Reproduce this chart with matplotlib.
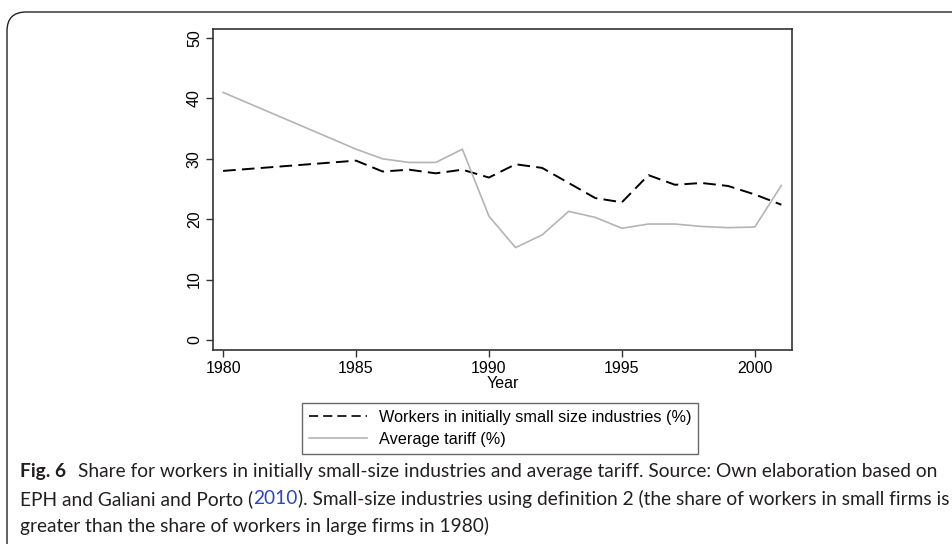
import matplotlib.pyplot as plt
from matplotlib.lines import Line2D
from matplotlib.patches import FancyBboxPatch

years = [1980, 1985, 1986, 1987, 1988, 1989, 1990, 1991, 1992, 1993, 1994, 1995,
         1996, 1997, 1998, 1999, 2000, 2001]
workers_small = [28.0, 29.7, 27.9, 28.2, 27.6, 28.2, 26.9, 29.1, 28.5, 26.0, 23.5, 22.8,
                 27.3, 25.7, 26.0, 25.5, 24.1, 22.4]
avg_tariff = [41.0, 31.6, 30.0, 29.4, 29.4, 31.6, 20.5, 15.3, 17.4, 21.3, 20.3, 18.5,
              19.2, 19.2, 18.8, 18.6, 18.7, 25.6]
x_ticks = [1980, 1985, 1990, 1995, 2000]
y_ticks = [0, 10, 20, 30, 40, 50]
labels = ['Workers in initially small size industries (%)', 'Average tariff (%)']

W, H = 953, 544
fig = plt.figure(figsize=(W / 100, H / 100), dpi=100)

# rounded frame around the figure (runs off the right and bottom edges)
frame = FancyBboxPatch((7 / W, -0.2), 1.2, 1 - 12 / H + 0.2,
                       boxstyle="round,pad=0,rounding_size=0.02",
                       transform=fig.transFigure, fill=False,
                       edgecolor='#222222', linewidth=1.0, mutation_aspect=W / H)
fig.patches.append(frame)

ax = fig.add_axes([213 / W, 1 - 350 / H, (792 - 213) / W, (350 - 29) / H])
ax.plot(years, workers_small, color='black', linestyle=(0, (6.5, 3.2)), linewidth=1.4)
ax.plot(years, avg_tariff, color='#b4b4b4', linewidth=1.2)

ax.set_xlim(1979.62, 2001.4)
ax.set_ylim(-1.66, 51.5)
ax.set_xticks(x_ticks)
ax.set_yticks(y_ticks)
tick_font = {'family': 'Liberation Sans', 'size': 11.5}
ax.set_xticklabels([str(t) for t in x_ticks], fontdict=tick_font)
ax.set_yticklabels([str(t) for t in y_ticks], fontdict=tick_font, rotation=90, va='center')
ax.tick_params(direction='out', length=5, width=1, color='#333333', pad=3)
ax.set_xlabel('Year', fontdict=tick_font, labelpad=0)
for s in ax.spines.values():
    s.set_color('#333333')
    s.set_linewidth(1.2)

# legend handles with a finer dash, like the source key
handles = [Line2D([], [], color='black', linestyle=(0, (5.5, 3.0)), linewidth=1.2),
           Line2D([], [], color='#b4b4b4', linewidth=1.2)]
leg = fig.legend(handles, labels, loc='upper left', bbox_to_anchor=(302 / W, 1 - 403 / H),
                 bbox_transform=fig.transFigure, prop={'family': 'Liberation Sans', 'size': 11.7},
                 fancybox=False, edgecolor='#444444', handlelength=3.6, borderpad=0.42,
                 labelspacing=0.45, handletextpad=0.7, borderaxespad=0)
leg.get_frame().set_linewidth(1.0)

# caption, sized so that line 2 spans the same width as in the source
cap_font = ['Lato', 'DejaVu Sans']
cap_col = '#231f20'
line1 = 'Share for workers in initially small-size industries and average tariff. Source: Own elaboration based on'
line2a = 'EPH and Galiani and Porto ('
line2b = '2010'
line2c = '). Small-size industries using definition 2 (the share of workers in small firms is'
line3 = 'greater than the share of workers in large firms in 1980)'

probe = fig.text(0, 0, line2a + line2b + line2c, fontsize=12, family=cap_font)
fig.canvas.draw()
cap_size = 12 * (944 - 20) / probe.get_window_extent().width
probe.remove()

def put(x_px, y_px, s, **kw):
    t = fig.text(x_px / W, 1 - y_px / H, s, fontsize=cap_size, family=cap_font,
                 va='center', **kw)
    fig.canvas.draw()
    return t.get_window_extent().x1

put(20, 472, 'Fig. 6', fontweight='bold', color=cap_col)
put(78, 472, line1, color=cap_col)
x = put(20, 499, line2a, color=cap_col)
x = put(x, 499, line2b, color='#2b45c8')
put(x, 499, line2c, color=cap_col)
put(20, 526, line3, color=cap_col)

fig.savefig('out.png', dpi=100)
